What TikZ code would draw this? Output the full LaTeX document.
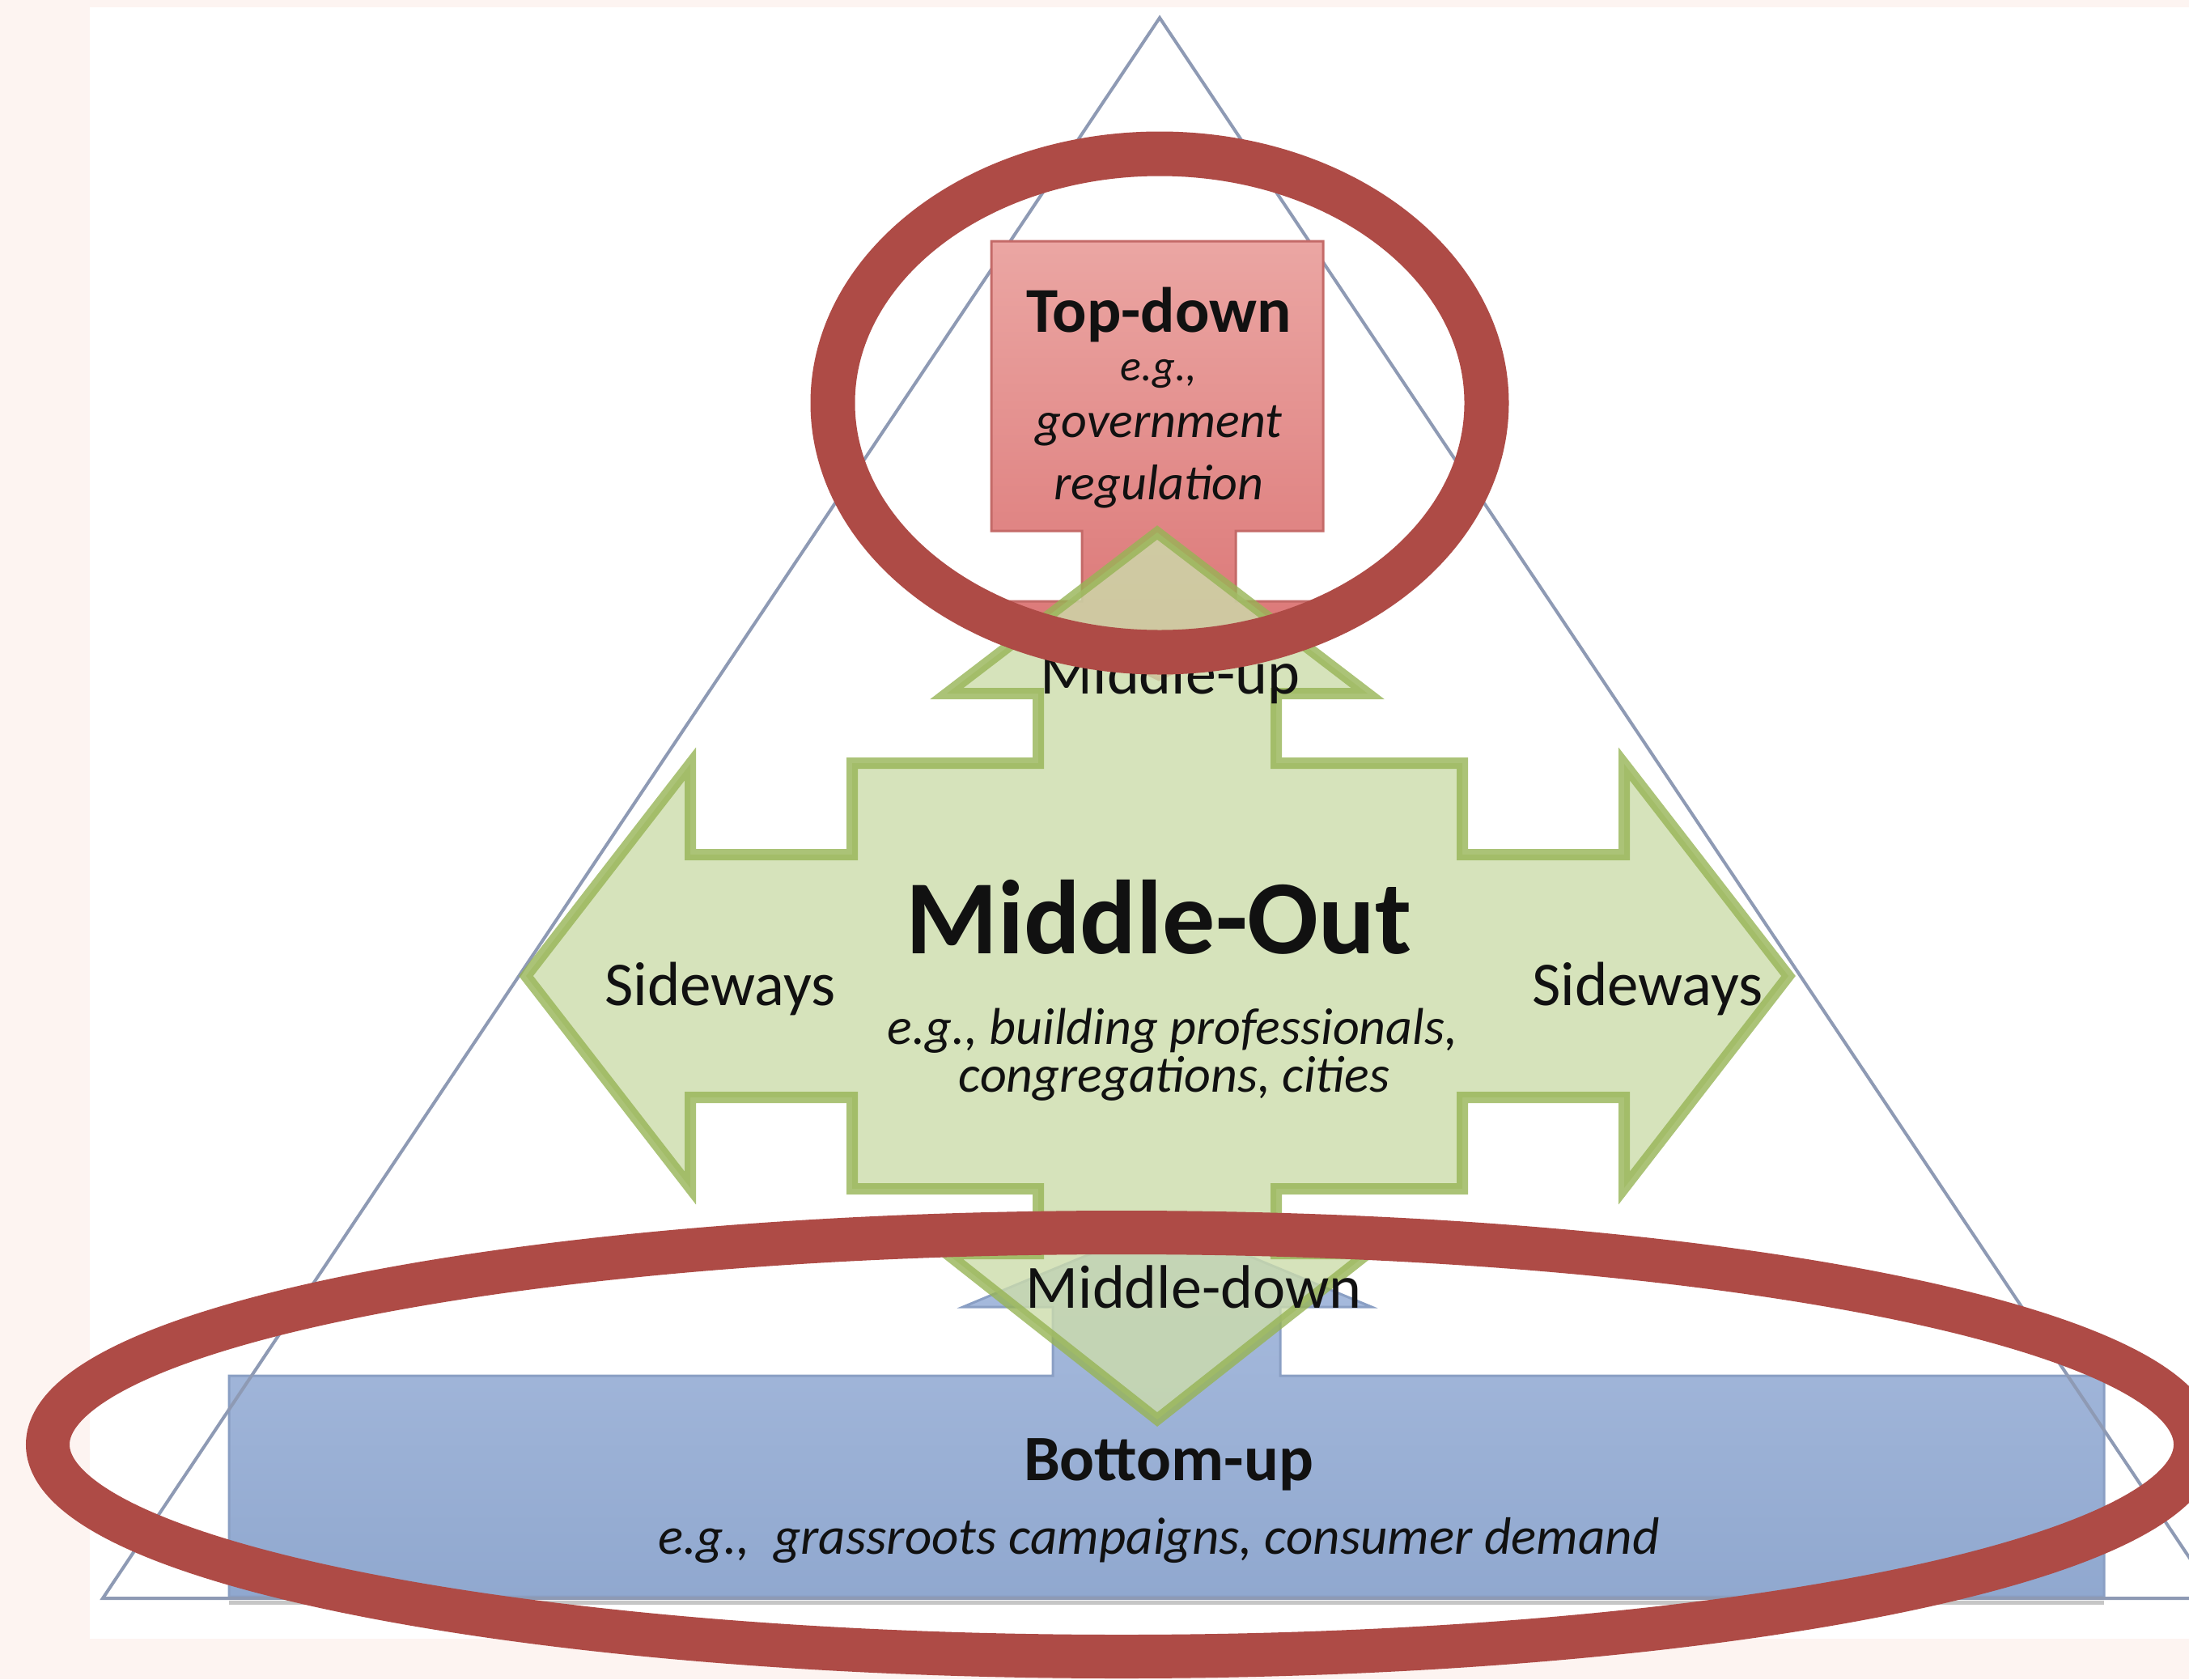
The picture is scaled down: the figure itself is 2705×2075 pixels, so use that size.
\documentclass[tikz,border=0pt]{standalone}
\usepackage{fontspec}
\setmainfont{Carlito}
\definecolor{pagebg}{HTML}{FDF4F1}
\definecolor{triline}{HTML}{8E9AB4}
\definecolor{blueT}{HTML}{AABDDF}
\definecolor{blueB}{HTML}{90A8CF}
\definecolor{blueE}{HTML}{8A9FC4}
\definecolor{redT}{HTML}{EBA6A3}
\definecolor{redB}{HTML}{DA7373}
\definecolor{redE}{HTML}{C46A68}
\definecolor{greenF}{HTML}{CCDCAB}
\definecolor{greenE}{HTML}{97B455}
\definecolor{ringc}{HTML}{AE4B46}
\definecolor{txt}{HTML}{111111}
\begin{document}
\begin{tikzpicture}[x=1pt,y=-1pt,
  lbl/.style={anchor=base,inner sep=0pt,text=txt},
  ring/.style={draw=ringc,line width=55pt}]
\useasboundingbox (0,0) rectangle (2705,2075);
\fill[pagebg] (0,0) rectangle (2705,2075);
\fill[white] (111,9) rectangle (2705,2025);
% bottom-up shape (up arrow callout)
\path[top color=blueT,bottom color=blueB,draw=blueE,line width=3pt]
  (283,1700) -- (1301,1700) -- (1301,1615) -- (1190,1615) -- (1442,1510)
  -- (1695,1615) -- (1582,1615) -- (1582,1700) -- (2600,1700)
  -- (2600,1973) -- (283,1973) -- cycle;
\draw[gray!45,line width=5pt] (283,1980) -- (2600,1980);
% triangle
\draw[triline,line width=4pt,line join=miter] (1433,22) -- (127,1975) -- (2739,1975) -- cycle;
% top-down shape (down arrow callout)
\path[top color=redT,bottom color=redB,draw=redE,line width=3pt]
  (1225,298) -- (1635,298) -- (1635,656) -- (1527,656) -- (1527,743)
  -- (1631,743) -- (1432,840) -- (1233,743) -- (1337,743) -- (1337,656)
  -- (1225,656) -- cycle;
% middle-out quad arrow
\path[fill=greenF,draw=greenE,line width=14pt,opacity=0.8,line join=miter]
  (1430,658) -- (1690,857) -- (1577,857) -- (1577,943) -- (1807,943)
  -- (1807,1056) -- (2007,1056) -- (2007,944) -- (2210,1206) -- (2007,1468)
  -- (2007,1356) -- (1807,1356) -- (1807,1469) -- (1577,1469) -- (1577,1549)
  -- (1690,1549) -- (1430,1754) -- (1170,1549) -- (1283,1549) -- (1283,1469)
  -- (1053,1469) -- (1053,1356) -- (853,1356) -- (853,1468) -- (650,1206)
  -- (853,944) -- (853,1056) -- (1053,1056) -- (1053,943) -- (1283,943)
  -- (1283,857) -- (1170,857) -- cycle;
% texts
\node[lbl,font=\fontsize{79}{90}\selectfont\bfseries] (td) at (1432,410) {Top-down};
\node[lbl,font=\fontsize{54}{60}\selectfont\itshape] (tdeg) at (1432,470) {e.g.,};
\node[lbl,font=\fontsize{62}{70}\selectfont\itshape] (tdg) at (1432,540) {government};
\node[lbl,font=\fontsize{62}{70}\selectfont\itshape] (tdr) at (1432,617) {regulation};
\node[lbl,font=\fontsize{76}{90}\selectfont] (mu) at (1446,857) {Middle-up};
\node[lbl,font=\fontsize{130}{150}\selectfont\bfseries] (mo) at (1432,1178) {Middle-Out};
\node[lbl,font=\fontsize{77}{90}\selectfont] (sl) at (890,1242) {Sideways};
\node[lbl,font=\fontsize{77}{90}\selectfont] (sr) at (2036,1242) {Sideways};
\node[lbl,font=\fontsize{64}{70}\selectfont\itshape] (moe1) at (1449,1290) {e.g., building professionals,};
\node[lbl,font=\fontsize{64}{70}\selectfont\itshape] (moe2) at (1451,1349) {congregations, cities};
\node[lbl,font=\fontsize{76}{90}\selectfont] (md) at (1475,1616) {Middle-down};
\node[lbl,font=\fontsize{80}{90}\selectfont\bfseries] (bu) at (1444,1829) {Bottom-up};
\node[lbl,font=\fontsize{65}{70}\selectfont\itshape] (bue) at (1432,1920) {e.g.,~~grassroots campaigns, consumer demand};
% highlight rings
\draw[ring] (1433,498) ellipse [x radius=404pt,y radius=308pt];
\draw[ring,line width=54pt] (1386,1785) ellipse [x radius=1327pt,y radius=262pt];
\end{tikzpicture}
\end{document}
